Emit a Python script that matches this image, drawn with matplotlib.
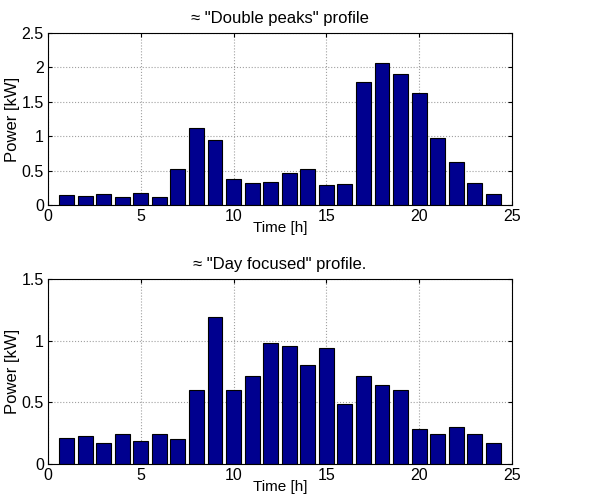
import matplotlib
matplotlib.use("Agg")
import matplotlib.pyplot as plt

hours = list(range(1, 25))

double_peaks = [0.15, 0.135, 0.16, 0.115, 0.175, 0.115, 0.53, 1.12, 0.95, 0.38,
                0.325, 0.335, 0.46, 0.52, 0.29, 0.31, 1.79, 2.07, 1.90, 1.63,
                0.98, 0.62, 0.325, 0.165]

day_focused = [0.21, 0.225, 0.17, 0.24, 0.185, 0.245, 0.20, 0.60, 1.195, 0.60,
               0.71, 0.98, 0.955, 0.80, 0.94, 0.49, 0.71, 0.64, 0.60, 0.28,
               0.245, 0.30, 0.245, 0.17]

plt.rcParams['font.family'] = ['Liberation Sans', 'DejaVu Sans']

bar_color = (0, 0, 0.5625)


def draw(ax, values, title, ymax, yticks, yticklabels):
    ax.bar(hours, values, width=0.8, color=bar_color, edgecolor='black', linewidth=0.8)
    ax.set_xlim(0, 25)
    ax.set_ylim(0, ymax)
    ax.set_xticks([0, 5, 10, 15, 20, 25])
    ax.set_yticks(yticks)
    ax.set_yticklabels(yticklabels)
    ax.grid(True, linestyle=':', color='#a0a0a0', linewidth=0.8)
    ax.set_axisbelow(True)
    ax.tick_params(direction='in', top=True, right=True, length=3, pad=3, labelsize=11.5)
    ax.set_title(title, fontsize=12, pad=7)
    ax.set_ylabel('Power [kW]', fontsize=12, labelpad=1)
    ax.set_xlabel('Time [h]', fontsize=11, labelpad=-2)
    for s in ax.spines.values():
        s.set_linewidth(0.8)


fig = plt.figure(figsize=(5.97, 4.97), dpi=100)
ax1 = fig.add_axes([0.0804, 0.5875, 0.777, 0.346])
ax2 = fig.add_axes([0.0804, 0.0664, 0.777, 0.372])

draw(ax1, double_peaks, '\u2248 "Double peaks" profile', 2.5,
     [0, 0.5, 1, 1.5, 2, 2.5], ['0', '0.5', '1', '1.5', '2', '2.5'])
draw(ax2, day_focused, '\u2248 "Day focused" profile.', 1.5,
     [0, 0.5, 1, 1.5], ['0', '0.5', '1', '1.5'])

fig.savefig('out.png', dpi=100)
